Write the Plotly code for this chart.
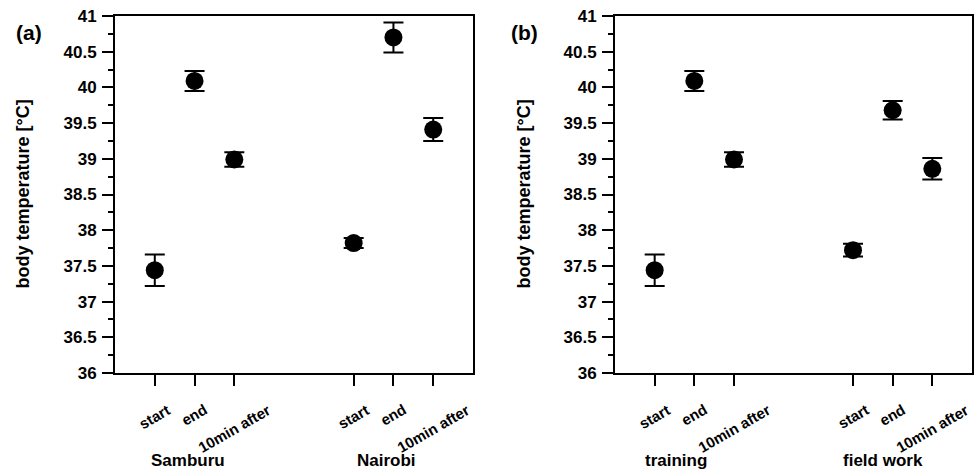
import plotly.graph_objects as go

# ---- data ----
phases = ["start", "end", "10min after"]
groups_a = ["Samburu", "Nairobi"]
groups_b = ["training", "field work"]

mean_a = [37.44, 40.09, 38.99, 37.82, 40.70, 39.41]
err_a = [0.22, 0.14, 0.10, 0.07, 0.21, 0.16]
mean_b = [37.44, 40.09, 38.99, 37.72, 39.68, 38.86]
err_b = [0.22, 0.14, 0.10, 0.09, 0.13, 0.15]

ytitle = "body temperature [°C]"
panel_labels = ["(a)", "(b)"]

# ---- layout helpers ----
W, H = 976, 470
TOP, BOTTOM = 16, 373
xpos = [g * 5 + i + 1 for g in range(2) for i in range(3)]
xlabels = [p for g in range(2) for p in phases]
group_x_a = [1.83, 6.83]
group_x_b = [1.54, 6.75]

FONT = "Liberation Sans, Arial, sans-serif"

fig = go.Figure()
for k, (m, e) in enumerate([(mean_a, err_a), (mean_b, err_b)]):
    fig.add_trace(go.Scatter(
        x=xpos, y=m, mode="markers",
        marker=dict(size=18, color="black"),
        error_y=dict(type="data", array=e, visible=True, thickness=2, width=10, color="black"),
        xaxis="x" if k == 0 else "x2", yaxis="y" if k == 0 else "y2",
        showlegend=False, cliponaxis=False,
    ))

def xax(domain, anchor):
    return dict(domain=domain, range=[0, 9], tickvals=xpos, ticktext=xlabels,
                showticklabels=False, ticks="outside", ticklen=11, tickwidth=2,
                tickcolor="black", showline=True, linewidth=2, linecolor="black",
                mirror=True, showgrid=False, zeroline=False, anchor=anchor)

def yax(anchor):
    return dict(domain=[0, 1], range=[36, 41], tick0=36, dtick=0.5,
                ticks="outside", ticklen=11, tickwidth=2, tickcolor="black",
                minor=dict(dtick=0.25, tick0=36, ticks="outside", ticklen=5, tickwidth=2, tickcolor="black"),
                tickfont=dict(family=FONT, size=17, color="black", weight="bold"),
                ticklabelstandoff=2,
                showline=True, linewidth=2, linecolor="black", mirror=True,
                showgrid=False, zeroline=False, anchor=anchor)

xa_dom = [115 / W, 473 / W]
xb_dom = [615 / W, 972 / W]

ann = []
ph = BOTTOM - TOP
for xr, gx, groups in [("x", group_x_a, groups_a), ("x2", group_x_b, groups_b)]:
    for x, lab in zip(xpos, xlabels):
        ann.append(dict(x=x, xref=xr, y=(BOTTOM - 398) / ph, yref="paper", text=lab,
                        textangle=-30, xanchor="center", yanchor="top", showarrow=False,
                        font=dict(family=FONT, size=15, color="black", weight="bold")))
    for x, g in zip(gx, groups):
        ann.append(dict(x=x, xref=xr, y=(BOTTOM - 460) / ph, yref="paper", text=g,
                        xanchor="center", yanchor="middle", showarrow=False,
                        font=dict(family=FONT, size=17, color="black", weight="bold")))

for xc in [22, 523]:
    ann.append(dict(x=xc / W, xref="paper", y=0.5, yref="paper", text=ytitle, textangle=-90,
                    xanchor="center", yanchor="middle", showarrow=False,
                    font=dict(family=FONT, size=18, color="black", weight="bold")))

for xc, lab in zip([28.5, 524], panel_labels):
    ann.append(dict(x=xc / W, xref="paper", y=(BOTTOM - 32.5) / ph, yref="paper", text=lab,
                    xanchor="center", yanchor="middle", showarrow=False,
                    font=dict(family=FONT, size=21, color="black", weight="bold")))

fig.update_layout(
    width=W, height=H,
    margin=dict(l=0, r=0, t=TOP, b=H - BOTTOM, pad=0),
    paper_bgcolor="white", plot_bgcolor="white",
    xaxis=xax(xa_dom, "y"), yaxis=yax("x"),
    xaxis2=xax(xb_dom, "y2"), yaxis2=yax("x2"),
    annotations=ann,
)

fig.write_html("out.html")
